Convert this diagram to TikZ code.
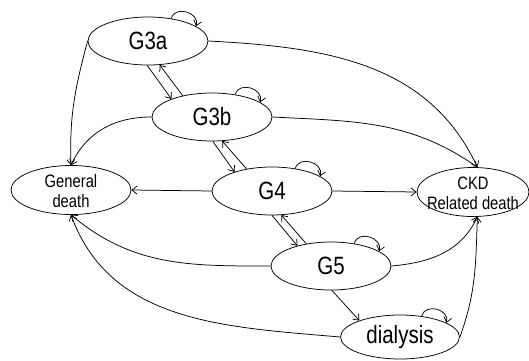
\documentclass[tikz,border=0pt]{standalone}
\usepackage{fontspec}
\setmainfont{Liberation Sans}[FakeStretch=0.82]
\usetikzlibrary{shapes.geometric,arrows.meta}
\begin{document}
\begin{tikzpicture}[x=1pt,y=1pt,
  st/.style={ellipse,draw,line width=0.75pt,inner sep=0pt,minimum width=120pt,minimum height=48pt,font=\fontsize{25}{28}\selectfont},
  deathst/.style={ellipse,draw,line width=0.75pt,inner sep=0pt,minimum height=49pt},
  deathlbl/.style={align=center,font=\fontsize{18}{20}\selectfont},
  arr/.style={-{Straight Barb[length=5pt,width=8pt]},line width=0.75pt},
  selfloop/.style={arr,out=75,in=75,looseness=1.4}]
\useasboundingbox (0,0) rectangle (529,360);
\node[st] (G3a) at (148,319) {\raisebox{-3pt}{G3a}};
\node[st] (G3b) at (212,243) {\raisebox{-3pt}{G3b}};
\node[st] (G4) at (272,169) {\raisebox{-3pt}{G4}};
\node[st] (G5) at (331,94) {\raisebox{-3pt}{G5}};
\node[st,minimum width=119pt,minimum height=44pt] (dial) at (400,23) {\raisebox{-6pt}{dialysis}};
\node[deathst,minimum width=120pt,label={[deathlbl,yshift=-1pt]center:General\\death}] (Gd) at (71,170) {};
\node[deathst,minimum width=112pt,label={[deathlbl,yshift=-1pt]center:CKD\\Related death}] (CKD) at (473,168) {};
% self loops
\draw[selfloop] (G3a.44) to (G3a.17);
\draw[selfloop] (G3b.44) to (G3b.17);
\draw[selfloop] (G4.44) to (G4.17);
\draw[selfloop] (G5.44) to (G5.17);
\draw[selfloop] (dial.44) to (dial.17);
% progression pairs
\draw[arr] (G3a.268) -- (G3b.156);
\draw[arr] (G3b.144) -- (G3a.296);
\draw[arr] (G3b.272) -- (G4.153);
\draw[arr] (G4.139) -- (G3b.293);
\draw[arr] (G4.270) -- (G5.149);
\draw[arr] (G5.138) -- (G4.291);
\draw[arr] (G5.272) -- (dial.158);
% to general death
\draw[arr] (G3a.west) to[out=255,in=92] (Gd.north);
\draw[arr] (G3b.west) to[out=180,in=65] (Gd.north);
\draw[arr] (G4.west) -- (Gd.east);
\draw[arr] (G5.west) to[out=180,in=-40] (Gd.south);
\draw[arr] (dial.west) to[out=175,in=-70] (Gd.south);
% to CKD related death
\draw[arr] (G3a.east) to[out=-3,in=115] (CKD.80);
\draw[arr] (G3b.east) to[out=-3,in=145] (CKD.80);
\draw[arr] (G4.east) -- (CKD.west);
\draw[arr] (G5.east) to[out=5,in=245] (CKD.-80);
\draw[arr] (dial.east) to[out=70,in=268] (CKD.-80);
\end{tikzpicture}
\end{document}
